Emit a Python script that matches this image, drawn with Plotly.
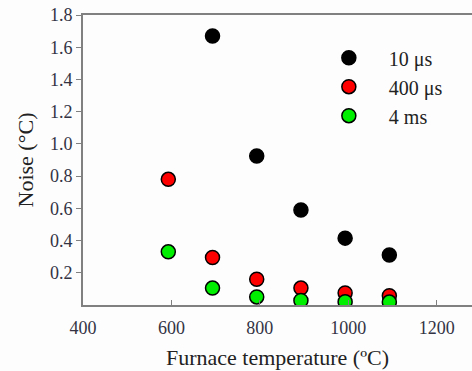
import plotly.graph_objects as go

temps = [593, 693, 793, 893, 993, 1093]
noise_10us = [None, 1.67, 0.925, 0.59, 0.415, 0.31]
noise_400us = [0.78, 0.295, 0.16, 0.105, 0.075, 0.058]
noise_4ms = [0.33, 0.105, 0.05, 0.028, 0.02, 0.018]
series_names = ["10 μs", "400 μs", "4 ms"]
series_colors = ["#000000", "#ff0000", "#00ee00"]
xticks = [400, 600, 800, 1000, 1200]
yticks = [0.2, 0.4, 0.6, 0.8, 1.0, 1.2, 1.4, 1.6, 1.8]

fig = go.Figure()
for name, vals, col in zip(series_names, [noise_10us, noise_400us, noise_4ms], series_colors):
    xs = [t for t, v in zip(temps, vals) if v is not None]
    ys = [v for v in vals if v is not None]
    fig.add_trace(go.Scatter(x=xs, y=ys, mode="markers", name="\u2003" + name,
                             marker=dict(size=14, color=col, line=dict(color="#000000", width=1.5))))

serif = "Liberation Serif, Times New Roman, serif"
fig.update_layout(
    width=472, height=371,
    margin=dict(l=83, r=0, t=15, b=66),
    paper_bgcolor="#fdfdfd", plot_bgcolor="#fdfdfd",
    font=dict(family=serif, color="#222222"),
    legend=dict(x=0.632, y=0.92, xanchor="left", yanchor="top", bgcolor="rgba(0,0,0,0)",
                font=dict(size=20, family=serif, color="#222222"), itemwidth=30),
    xaxis=dict(range=[400, 1280], tickvals=xticks, ticks="inside", ticklen=5, tickcolor="#808080",
               showline=True, linecolor="#808080", linewidth=2, mirror=True, showgrid=False, zeroline=False,
               ticklabelstandoff=5,
               tickfont=dict(size=18, family=serif, color="#333344"),
               title=dict(text="Furnace temperature (ºC)", font=dict(size=22, family=serif, color="#222222"), standoff=13)),
    yaxis=dict(range=[0, 1.8], tickvals=yticks, tickformat=".1f", ticks="outside", ticklen=5, tickcolor="#808080",
               showline=True, linecolor="#808080", linewidth=2, showgrid=False, zeroline=False,
               tickfont=dict(size=18, family=serif, color="#333344"),
               title=dict(text="Noise (°C)", font=dict(size=22, family=serif, color="#222222"), standoff=10)),
)
fig.write_html("out.html")
